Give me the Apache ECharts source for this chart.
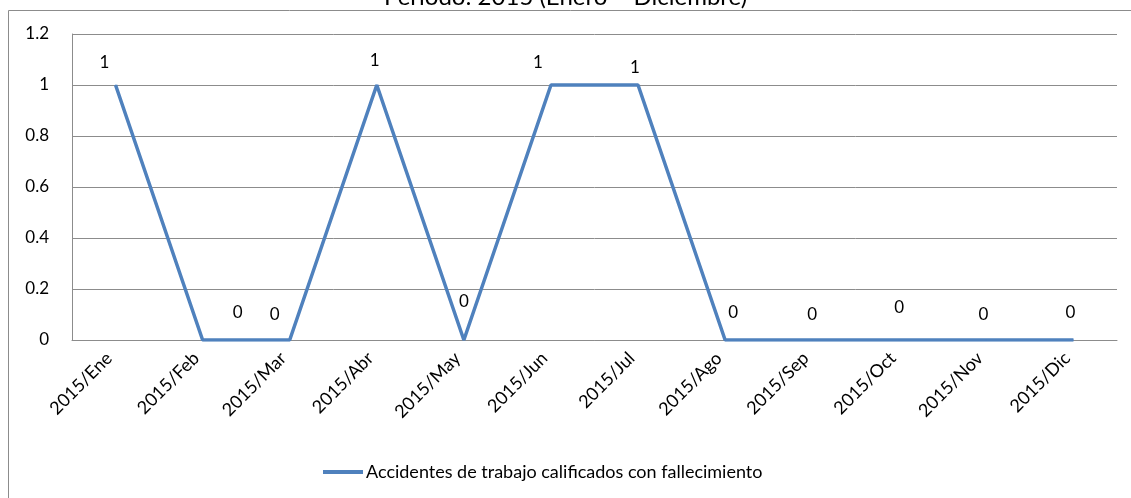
<!DOCTYPE html>
<html><head><meta charset="utf-8">
<script src="https://cdn.jsdelivr.net/npm/echarts@6/dist/echarts.min.js"></script>
<style>html,body{margin:0;padding:0;background:#fff}#c{width:1131px;height:498px}</style>
</head><body><div id="c"></div>
<script>
const titleText = 'Periodo: 2015 (Enero – Diciembre)';
const seriesName = 'Accidentes de trabajo calificados con fallecimiento';
const categories = ['2015/Ene','2015/Feb','2015/Mar','2015/Abr','2015/May','2015/Jun','2015/Jul','2015/Ago','2015/Sep','2015/Oct','2015/Nov','2015/Dic'];
const values = [1,0,0,1,0,1,1,0,0,0,0,0];
const yTicks = [0,0.2,0.4,0.6,0.8,1,1.2];
// label placement offsets (style only)
const labelOffsets = [[-11,-1],[35,-6],[-15,-4],[-2,-3],[0,-17],[-13,-1],[-3,4],[8,-6],[0,-4],[0,-11],[-3,-4],[-3,-6]];

const font = 'Lato, "Open Sans", sans-serif';
const chart = echarts.init(document.getElementById('c'));
chart.setOption({
  animation:false,
  title:{text:titleText,left:'center',top:-20,textStyle:{fontFamily:font,fontSize:24,fontWeight:'normal',color:'#000'}},
  graphic:[{type:'rect',shape:{x:8.5,y:10.5,width:1200,height:600},style:{fill:'none',stroke:'#8c8c8c',lineWidth:1},z:100}],
  grid:{left:72,right:14,top:34,bottom:158,containLabel:false},
  legend:{data:[{name:seriesName}],left:318,top:458,itemWidth:40,itemHeight:4,itemGap:4,icon:'rect',
    textStyle:{fontFamily:font,fontSize:18,color:'#000',padding:[0,0,0,-2]}},
  xAxis:{type:'category',data:categories,boundaryGap:true,
    axisLine:{lineStyle:{color:'#8c8c8c'}},axisTick:{show:false},
    axisLabel:{rotate:45,interval:0,fontFamily:font,fontSize:18,color:'#000',margin:9,padding:[0,9,0,0]}},
  yAxis:{type:'value',min:yTicks[0],max:yTicks[yTicks.length-1],interval:0.2,
    axisLine:{show:true,lineStyle:{color:'#8c8c8c'}},axisTick:{show:false},
    splitLine:{lineStyle:{color:'#8c8c8c'}},
    axisLabel:{fontFamily:font,fontSize:17,color:'#000',margin:23,formatter:v=>String(Math.round(v*10)/10)}},
  series:[{name:seriesName,type:'line',data:values.map((v,i)=>({value:v,label:{offset:labelOffsets[i]}})),
    symbol:'circle',symbolSize:1,showSymbol:true,lineStyle:{color:'#4F81BD',width:3.5},itemStyle:{color:'#4F81BD'},
    label:{show:true,position:'top',distance:12,fontFamily:font,fontSize:17,color:'#000'}}]
});
</script></body></html>
